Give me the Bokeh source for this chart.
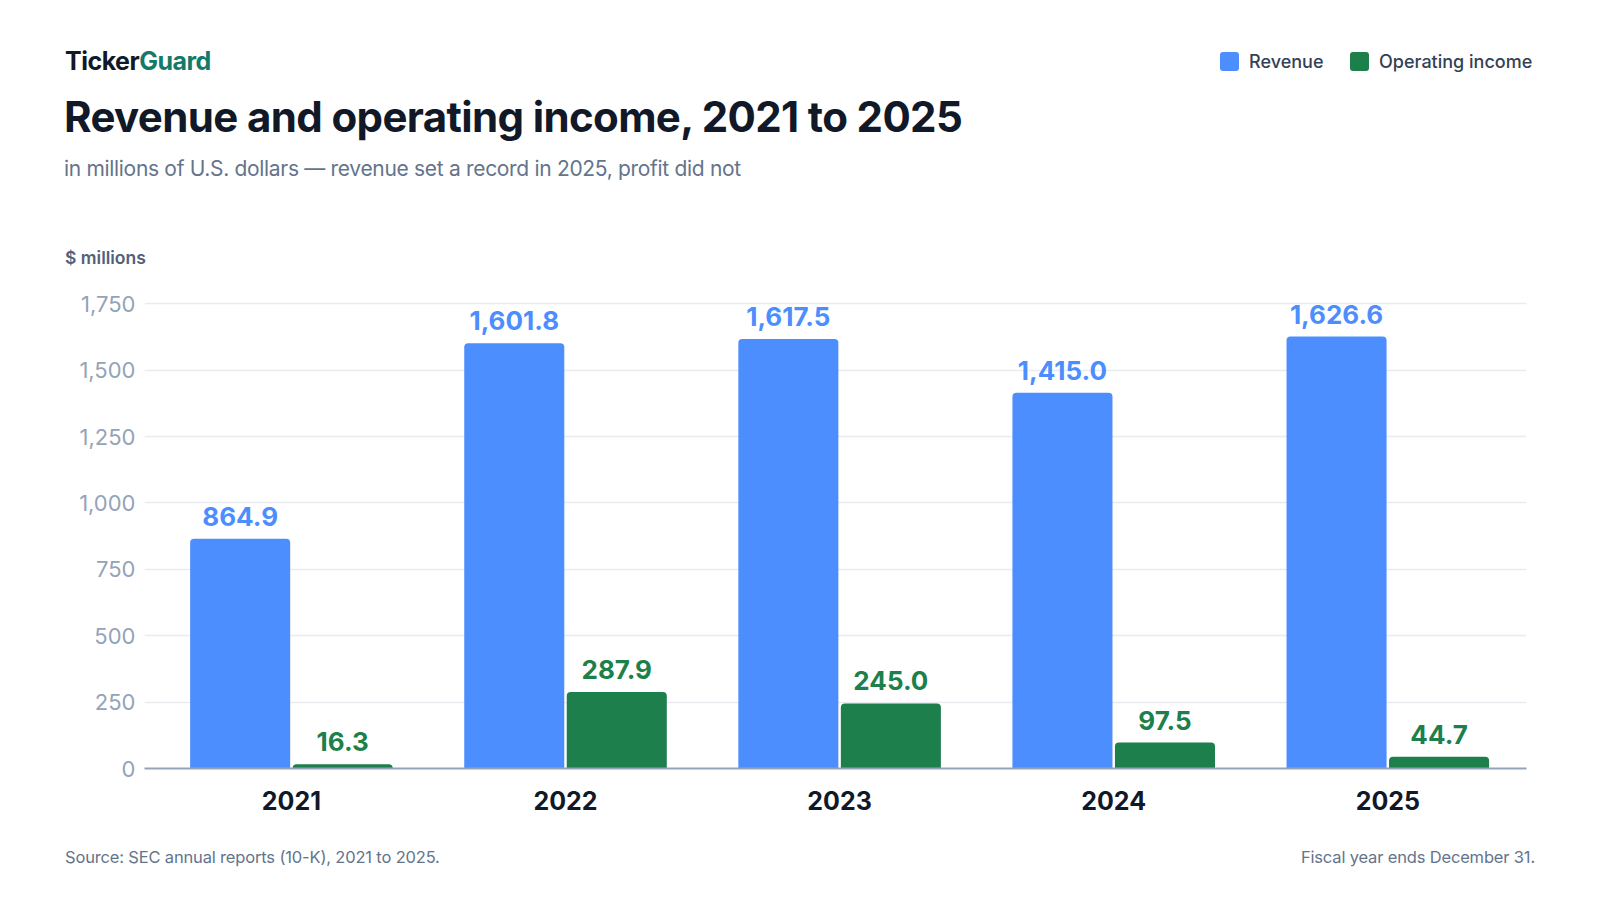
from bokeh.plotting import figure
from bokeh.layouts import column
from bokeh.models import (ColumnDataSource, FixedTicker, NumeralTickFormatter, Range1d,
                          LabelSet, Div)
from bokeh.core.properties import value
from bokeh.transform import dodge
from bokeh.embed import file_html
from bokeh.resources import INLINE

# --- data ---
years = ["2021", "2022", "2023", "2024", "2025"]
revenue = [864.9, 1601.8, 1617.5, 1415.0, 1626.6]
op_income = [16.3, 287.9, 245.0, 97.5, 44.7]
y_ticks = [0, 250, 500, 750, 1000, 1250, 1500, 1750]

FONT = "Inter"
BLUE = "#4d8eff"
GREEN = "#1d7f4b"
INK = "#111827"
MUTED = "#64748b"

# --- layout (page pixels) ---
W = 1600
HEAD_H, MAIN_H, FOOT_H = 282, 543, 75
FRAME_L, FRAME_R, FRAME_T, FRAME_B = 144, 1526, 290, 768

idx = list(range(len(years)))
source = ColumnDataSource(dict(
    x=idx,
    revenue=revenue,
    op_income=op_income,
    rev_label=[f"{v:,.1f}" for v in revenue],
    op_label=[f"{v:,.1f}" for v in op_income],
))

p = figure(
    width=W, height=MAIN_H,
    x_range=Range1d(-0.536, 4.506),
    y_range=Range1d(0, 1800),
    toolbar_location=None,
    output_backend="svg",
    min_border_left=FRAME_L,
    min_border_right=W - FRAME_R,
    min_border_top=FRAME_T - HEAD_H,
    min_border_bottom=HEAD_H + MAIN_H - FRAME_B,
    background_fill_color="white",
    border_fill_color="white",
    outline_line_color=None,
)

# --- bars ---
bar_w = 0.365
off = 0.187
p.vbar(x=dodge("x", -off), top="revenue", width=bar_w, source=source,
       fill_color=BLUE, line_color=None, border_radius=(4, 4, 0, 0))
p.vbar(x=dodge("x", off), top="op_income", width=bar_w, source=source,
       fill_color=GREEN, line_color=None, border_radius=(4, 4, 0, 0))

# --- value labels ---
p.add_layout(LabelSet(x=dodge("x", -off), y="revenue", text="rev_label", source=source,
                      text_align="center", text_baseline="alphabetic", y_offset=13,
                      text_font=value(FONT), text_font_style="bold", text_font_size="26px",
                      text_color=BLUE))
p.add_layout(LabelSet(x=dodge("x", off), y="op_income", text="op_label", source=source,
                      text_align="center", text_baseline="alphabetic", y_offset=13,
                      text_font=value(FONT), text_font_style="bold", text_font_size="26px",
                      text_color=GREEN))

# --- axes ---
p.yaxis.ticker = FixedTicker(ticks=y_ticks)
p.yaxis.formatter = NumeralTickFormatter(format="0,0")
p.yaxis.axis_line_color = None
p.yaxis.major_tick_line_color = None
p.yaxis.minor_tick_line_color = None
p.yaxis.major_tick_out = 0
p.yaxis.major_label_text_font = FONT
p.yaxis.major_label_text_font_size = "22px"
p.yaxis.major_label_text_color = "#94a3b8"
p.yaxis.major_label_standoff = 9

p.xaxis.ticker = FixedTicker(ticks=idx)
p.xaxis.major_label_overrides = {i: y for i, y in zip(idx, years)}
p.xaxis.axis_line_color = "#94a3b8"
p.xaxis.axis_line_width = 2
p.xaxis.major_tick_line_color = None
p.xaxis.minor_tick_line_color = None
p.xaxis.major_label_text_font = FONT
p.xaxis.major_label_text_font_style = "bold"
p.xaxis.major_label_text_font_size = "25px"
p.xaxis.major_label_text_color = INK
p.xaxis.major_label_standoff = 16

p.xgrid.grid_line_color = None
p.ygrid.grid_line_color = "#e8ebef"
p.ygrid.grid_line_width = 1.5


# --- header and footer as positioned html text ---
def txt(text, left, baseline, size, color, weight=400, track="-0.015em", right=None):
    # line-height 1: Inter baseline sits ~0.864 em below the box top
    top = baseline - 0.864 * size
    pos = f"right:{right}px;text-align:right;" if right is not None else f"left:{left}px;"
    return (f'<div style="position:absolute;{pos}top:{top:.1f}px;font-size:{size}px;'
            f'line-height:1;font-weight:{weight};color:{color};letter-spacing:{track};">'
            f'{text}</div>')


def swatch(left, top, color):
    return (f'<div style="position:absolute;left:{left}px;top:{top}px;width:19px;height:19px;'
            f'border-radius:3px;background:{color};"></div>')


def panel(html, height):
    return Div(
        text=(f'<div style="position:relative;width:{W}px;height:{height}px;'
              f'font-family:{FONT},sans-serif;white-space:nowrap;">{html}</div>'),
        width=W, height=height, styles={"margin": "0", "padding": "0"},
    )


head_html = "".join([
    txt('Ticker<span style="color:#127a68">Guard</span>', 65, 70.7, 25, INK, 700, "-0.02em"),
    txt("Revenue and operating income, 2021 to 2025", 64, 132.3, 42, INK, 700),
    txt("in millions of U.S. dollars \u2014 revenue set a record in 2025, profit did not",
        64, 175.7, 21, MUTED),
    txt("$ millions", 65, 264, 17.5, "#52607a", 600, "0em"),
    swatch(1220, 52, BLUE),
    txt("Revenue", 1249, 68.3, 18, "#334155", 500, "0em"),
    swatch(1350, 52, GREEN),
    txt("Operating income", 1379, 68.3, 18, "#334155", 500, "0em"),
])
head = panel(head_html, HEAD_H)

foot_top = HEAD_H + MAIN_H
foot_html = "".join([
    txt("Source: SEC annual reports (10-K), 2021 to 2025.", 65, 863.3 - foot_top, 16.5, MUTED,
        400, "-0.01em"),
    txt("Fiscal year ends December 31.", 0, 863.3 - foot_top, 16.5, MUTED, 400, "-0.01em",
        right=W - 1535),
])
foot = panel(foot_html, FOOT_H)

layout = column(head, p, foot, spacing=0)
open("out.html", "w").write(file_html(layout, INLINE))
